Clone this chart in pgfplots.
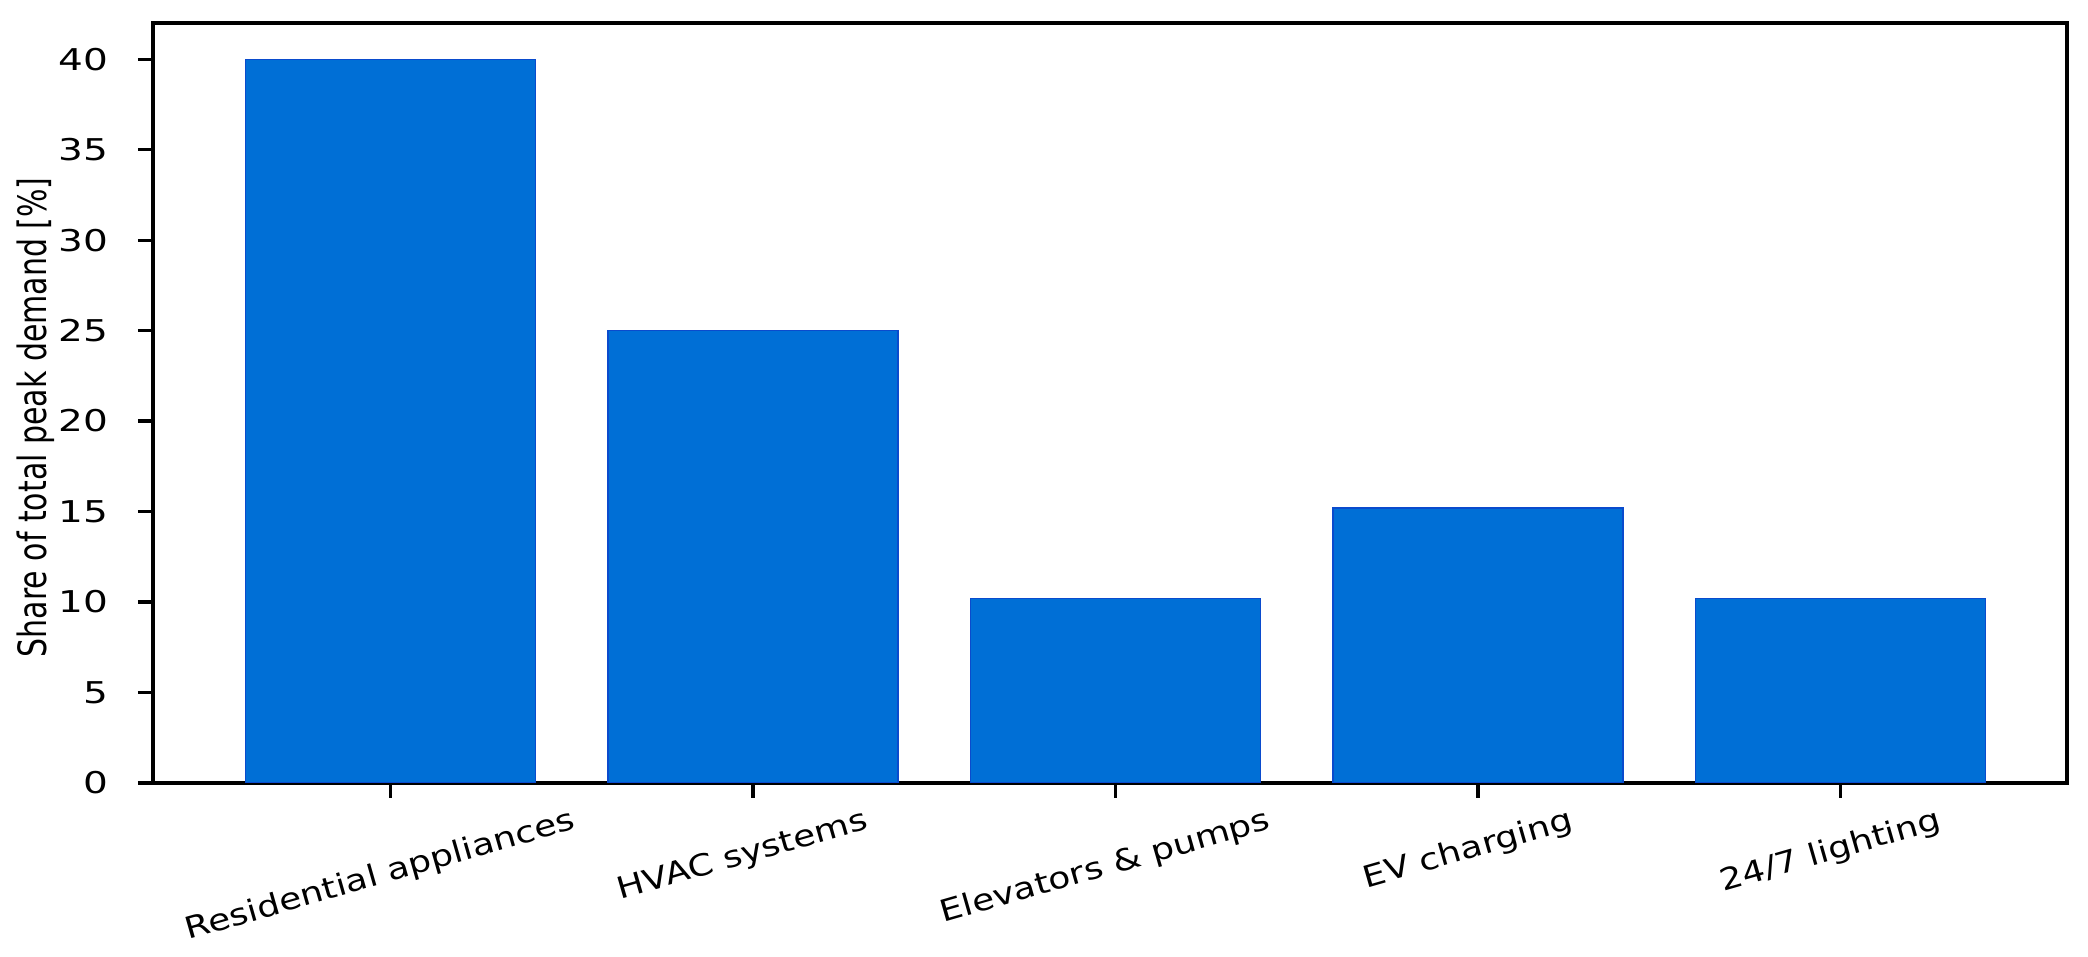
\documentclass[border=0pt]{standalone}
\usepackage{fontspec}
\setmainfont{DejaVu Sans}
\newfontfamily\stf{DejaVu Sans}[FakeStretch=1.3]
\newfontfamily\xtf{DejaVu Sans}[FakeStretch=1.2]
\usepackage{graphicx}
\usepackage{pgfplots}
\pgfplotsset{compat=1.18}
\usetikzlibrary{calc}
\definecolor{barblue}{RGB}{0,111,214}
\definecolor{baredge}{RGB}{10,75,205}
\begin{document}
\begin{tikzpicture}
\begin{axis}[
  scale only axis, width=478.5pt, height=190pt,
  xmin=-0.655, xmax=4.625, ymin=0, ymax=42,
  ybar, bar width=0.8,
  xtick={0,1,2,3,4},
  xticklabels={\rotatebox{16}{Residential appliances},\rotatebox{16}{HVAC systems},\rotatebox{16}{Elevators \& pumps},\rotatebox{16}{EV charging},\rotatebox{16}{24/7 lighting}},
  ytick={0,5,...,40},
  tick pos=left,
  axis line style={line width=0.8pt},
  tick style={line width=0.8pt, black},
  tick align=outside, major tick length=3.75pt,
  /pgf/number format/assume math mode=true,
  yticklabel style={font=\stf\fontsize{7.5}{9}\selectfont, anchor=east, inner sep=0pt, xshift=-7.25pt},
  xticklabel style={font=\xtf\fontsize{7.5}{9}\selectfont, anchor=north, inner sep=0pt, xshift=-2.5pt, yshift=-2pt},
  ylabel={\scalebox{1}[1.3]{Share of total peak demand [\%]}},
  ylabel style={font=\fontsize{7.5}{9}\selectfont, at={($(axis description cs:0,0.5)+(-29.25pt,-3.6pt)$)}, anchor=center, inner sep=0pt},
]
\addplot[fill=barblue, draw=baredge, line width=0.3pt] coordinates {(0,40) (1,25) (2,10.2) (3,15.2) (4,10.2)};
\end{axis}
\pgfresetboundingbox
\path ($(current axis.south west)+(-38.25pt,-43.5pt)$) rectangle ($(current axis.north east)+(5.25pt,5.75pt)$);
\end{tikzpicture}
\end{document}
